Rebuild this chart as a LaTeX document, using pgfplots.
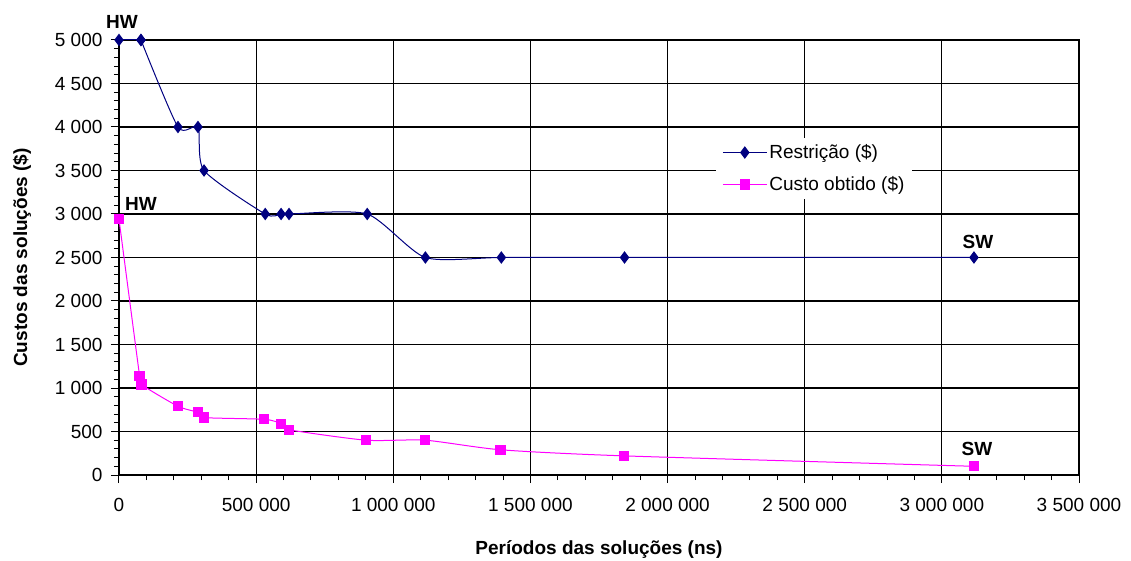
\documentclass[border=0pt]{standalone}
\usepackage{fontspec}
\setmainfont{Liberation Sans}
\usepackage{pgfplots}
\pgfplotsset{compat=1.18}
\definecolor{navyb}{RGB}{0,0,128}
\definecolor{mag}{RGB}{255,0,255}
\begin{document}
\fontsize{19bp}{23bp}\selectfont
\begin{tikzpicture}
\path[use as bounding box] (-119bp,-86bp) rectangle (1012bp,475bp);
\begin{axis}[
  at={(0,0)}, anchor=south west,
  scale only axis, width=960bp, height=435bp,
  xmin=0, xmax=3500000, ymin=0, ymax=5000,
  xtick distance=500000, ytick distance=500,
  minor x tick num=4, minor y tick num=4,
  grid=major, major grid style={black, line width=1.2bp},
  axis line style={black, line width=1.2bp},
  tick align=outside, major tick length=8bp, minor tick length=5bp,
  every tick/.style={black, line width=1bp},
  tick pos=left,
  scaled ticks=false,
  /pgf/number format/fixed,
  /pgf/number format/1000 sep={\ },
  /pgf/number format/assume math mode=true,
  ticklabel style={font=\fontsize{19bp}{23bp}\selectfont},
  xticklabel style={yshift=-9bp},
  yticklabel style={xshift=-2bp},
  xlabel={\bfseries Períodos das soluções (ns)},
  ylabel={\bfseries Custos das soluções (\$)},
  xlabel style={at={(axis description cs:0.5,-0.172)}, anchor=center},
  ylabel style={at={(axis description cs:-0.101,0.5)}, anchor=center},
  clip=false,
  legend style={at={(axis description cs:0.622,0.775)}, anchor=north west,
    draw=none, fill=white, font=\fontsize{19bp}{23bp}\selectfont,
    row sep=11bp, inner xsep=6bp, inner ysep=4bp},
  legend cell align=left,
  legend image code/.code={\draw[mark repeat=2,mark phase=2,#1] plot coordinates {(0bp,0bp) (22bp,0bp) (44bp,0bp)};},
]
\addplot[navyb, line width=1bp, mark=diamond*, mark size=5.5bp, mark options={solid, fill=navyb}, forget plot] coordinates {
(0,5000) (80000,5000)
};
\addplot[navyb, line width=1bp, smooth, tension=0.4, mark=diamond*, mark size=5.5bp, mark options={solid, fill=navyb}] coordinates {
(80000,5000) (215000,4000) (288000,4000) (310000,3500) (533000,3000) (591000,3000) (620000,3000) (905000,3000) (1117000,2500) (1394000,2500) (1843000,2500) (3117000,2500)
};
\addlegendentry{Restrição (\$)}
\addplot[mag, line width=1bp, smooth, tension=0.4, mark=square*, mark size=4.6bp, mark options={solid, fill=mag}] coordinates {
(0,2940) (75000,1140) (82000,1040) (215000,790) (288000,720) (310000,660) (530000,640) (591000,590) (620000,520) (901000,400) (1117000,400) (1391000,290) (1840000,220) (3117000,100)
};
\addlegendentry{Custo obtido (\$)}
\node[font=\bfseries, inner sep=0pt, xshift=3bp, yshift=18bp] at (axis cs:0,5000) {HW};
\node[font=\bfseries, inner sep=0pt, xshift=22bp, yshift=15bp] at (axis cs:0,2940) {HW};
\node[font=\bfseries, inner sep=0pt, xshift=4bp, yshift=16bp] at (axis cs:3117000,2500) {SW};
\node[font=\bfseries, inner sep=0pt, xshift=3bp, yshift=17bp] at (axis cs:3117000,100) {SW};
\end{axis}
\end{tikzpicture}
\end{document}
